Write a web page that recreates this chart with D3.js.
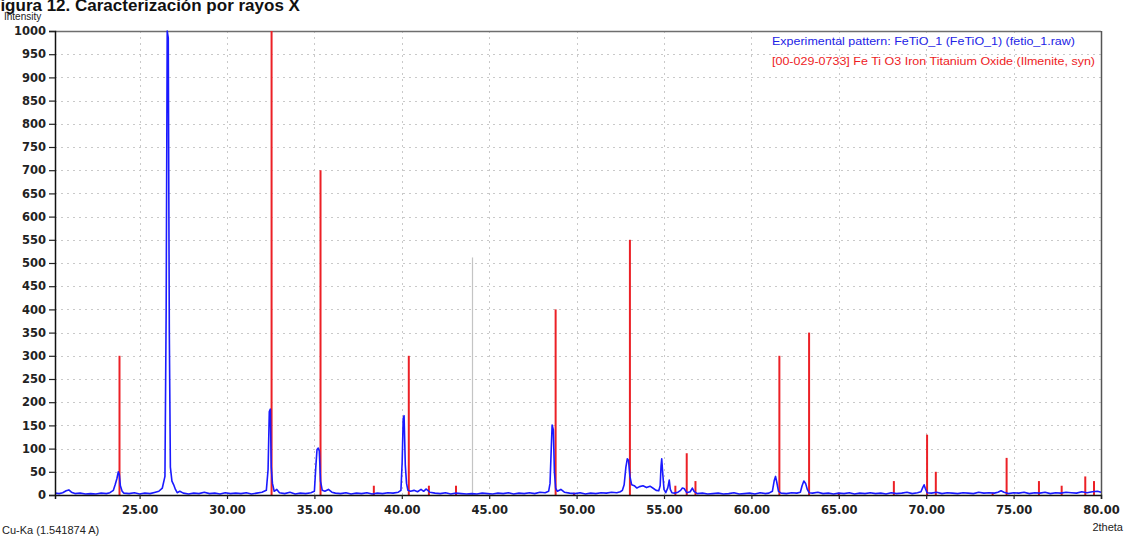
<!DOCTYPE html>
<html>
<head>
<meta charset="utf-8">
<script src="https://cdn.jsdelivr.net/npm/d3@7"></script>
<style>
  html, body { margin: 0; padding: 0; background: #fff; overflow: hidden; }
  svg { display: block; }
</style>
</head>
<body>
<svg id="chart" width="1125" height="537"></svg>
<script>
// ---------- DATA ----------
const titleText = "Figura 12. Caracterización por rayos X";
const yLabel = "Intensity";
const xLabel = "2theta";
const wavelengthLabel = "Cu-Ka (1.541874 A)";
const legendLabels = [
  "Experimental pattern: FeTiO_1 (FeTiO_1) (fetio_1.raw)",
  "[00-029-0733] Fe Ti O3 Iron Titanium Oxide (Ilmenite, syn)"
];
const xTicks = [25, 30, 35, 40, 45, 50, 55, 60, 65, 70, 75, 80];
const yTicks = [0, 50, 100, 150, 200, 250, 300, 350, 400, 450, 500, 550, 600, 650, 700, 750, 800, 850, 900, 950, 1000];

// Reference pattern (ilmenite) sticks
const refTheta = [23.85, 32.55, 35.35, 38.4, 40.4, 41.55, 43.1, 48.8, 49.85, 53.05, 55.65, 56.3, 56.8, 61.6, 63.3, 65.0, 68.15, 70.05, 70.55, 73.8, 74.6, 76.45, 77.75, 79.1, 79.6];
const refIntensity = [300, 1000, 700, 20, 300, 20, 20, 400, 5, 550, 20, 90, 30, 300, 350, 5, 30, 130, 50, 5, 80, 30, 20, 40, 30];

// Experimental pattern
const expTheta = [20.16,20.4,20.6,20.8,20.95,21.1,21.3,21.6,21.9,22.2,22.5,22.8,23.1,23.3,23.5,23.6,23.7,23.78,23.84,23.9,24.0,24.1,24.4,24.7,25.0,25.3,25.6,25.9,26.1,26.3,26.45,26.52,26.58,26.64,26.7,26.76,26.85,26.95,27.05,27.15,27.3,27.5,27.8,28.1,28.4,28.7,29.0,29.3,29.6,29.9,30.2,30.5,30.8,31.1,31.4,31.7,32.0,32.25,32.35,32.42,32.48,32.53,32.6,32.7,32.85,33.0,33.3,33.6,33.9,34.2,34.5,34.8,35.0,35.08,35.15,35.22,35.28,35.35,35.45,35.6,35.8,36.0,36.2,36.5,36.8,37.1,37.4,37.7,38.0,38.3,38.6,38.9,39.2,39.5,39.8,39.95,40.02,40.08,40.13,40.2,40.27,40.35,40.5,40.7,40.9,41.1,41.25,41.4,41.6,41.9,42.2,42.5,42.8,43.1,43.4,43.7,44.0,44.3,44.6,44.9,45.2,45.5,45.8,46.1,46.4,46.7,47.0,47.3,47.6,47.9,48.2,48.4,48.48,48.55,48.6,48.67,48.73,48.8,48.9,49.1,49.3,49.6,49.9,50.2,50.5,50.8,51.1,51.4,51.7,52.0,52.3,52.5,52.62,52.72,52.82,52.9,52.97,53.05,53.15,53.3,53.45,53.6,53.8,54.0,54.2,54.4,54.55,54.7,54.78,54.83,54.87,54.92,55.0,55.1,55.22,55.3,55.36,55.45,55.6,55.8,55.95,56.05,56.15,56.3,56.5,56.62,56.72,56.9,57.2,57.5,57.8,58.1,58.4,58.7,59.0,59.3,59.6,59.9,60.2,60.5,60.8,61.0,61.2,61.3,61.38,61.45,61.55,61.7,62.0,62.3,62.6,62.8,62.9,63.0,63.1,63.2,63.3,63.5,63.8,64.1,64.4,64.7,65.0,65.3,65.6,65.9,66.2,66.5,66.8,67.1,67.4,67.7,68.0,68.3,68.6,68.9,69.2,69.5,69.7,69.8,69.88,69.95,70.05,70.3,70.6,70.9,71.2,71.5,71.8,72.1,72.4,72.7,73.0,73.3,73.6,73.9,74.1,74.28,74.45,74.7,75.0,75.3,75.6,75.9,76.2,76.5,76.8,77.1,77.4,77.7,78.0,78.3,78.6,78.9,79.2,79.5,79.8,80.0];
const expCounts = [4,3,5,9,11,6,3,4,2,3,2,4,3,5,10,22,35,50,44,20,8,4,3,5,2,4,3,6,8,15,40,400,1000,985,350,60,30,22,12,5,8,4,2,4,3,6,3,4,2,5,3,4,3,5,2,4,6,10,55,180,185,60,25,8,12,5,3,6,2,4,3,5,8,60,98,101,95,30,10,8,12,6,4,3,5,2,4,3,5,2,4,3,5,4,6,10,70,165,171,65,25,10,8,10,7,12,8,13,6,4,3,5,2,4,3,2,3,2,4,3,2,4,3,5,2,4,3,5,3,6,5,8,25,100,151,140,50,15,8,12,6,4,3,5,2,4,3,5,4,6,5,7,10,22,60,78,75,40,22,20,15,18,20,16,19,14,10,9,20,62,78,50,12,5,16,32,12,5,4,6,10,15,14,5,7,15,8,3,4,2,3,4,2,3,5,2,3,4,2,5,3,4,8,30,40,28,8,4,3,5,4,6,20,30,25,12,5,4,6,3,4,2,4,3,5,2,4,3,5,3,4,2,5,3,4,6,3,5,7,16,22,14,5,4,6,3,5,4,3,5,4,3,6,4,5,4,6,9,6,3,5,4,6,3,5,4,6,3,5,4,6,5,4,7,5,7,8,6];

// Marker line (cursor) in the original software view
const cursorTheta = [44.0];
const cursorIntensity = [512];

// ---------- CHART ----------
const svg = d3.select("#chart");
const mLeft = 55, mRight = 1101, mTop = 31, mBottom = 495;

const x = d3.scaleLinear().domain([20.16, 80]).range([mLeft, mRight]);
const y = d3.scaleLinear().domain([0, 1000]).range([mBottom, mTop]);

const font = "'Liberation Sans', Arial, sans-serif";
const tickFont = "'DejaVu Sans', Verdana, sans-serif";

// Title (clipped at top in the original)
svg.append("text")
  .attr("x", -10).attr("y", 11)
  .attr("font-family", font).attr("font-weight", "bold").attr("font-size", 17)
  .attr("fill", "#111")
  .text(titleText);

// Gridlines
const grid = svg.append("g").attr("stroke", "#c9c9c9").attr("stroke-width", 1).attr("stroke-dasharray", "2,4");
grid.selectAll("line.h").data(yTicks.filter(d => d > 0 && d < 1000)).join("line")
  .attr("class", "h")
  .attr("x1", mLeft).attr("x2", mRight)
  .attr("y1", d => Math.round(y(d)) + 0.5).attr("y2", d => Math.round(y(d)) + 0.5);
grid.selectAll("line.v").data(xTicks.filter(d => d < 80)).join("line")
  .attr("class", "v")
  .attr("y1", mTop).attr("y2", mBottom)
  .attr("x1", d => Math.round(x(d)) + 0.5).attr("x2", d => Math.round(x(d)) + 0.5);

// Cursor line
svg.selectAll("line.cursor").data(cursorTheta).join("line")
  .attr("class", "cursor")
  .attr("x1", d => Math.round(x(d)) + 0.5).attr("x2", d => Math.round(x(d)) + 0.5)
  .attr("y1", mBottom).attr("y2", (d, i) => y(cursorIntensity[i]))
  .attr("stroke", "#c4c4c4").attr("stroke-width", 1.2);

// Frame top/right
svg.append("line").attr("x1", mLeft).attr("x2", mRight).attr("y1", mTop + 0.5).attr("y2", mTop + 0.5)
  .attr("stroke", "#6e6e6e").attr("stroke-width", 1.5);
svg.append("line").attr("x1", mRight + 0.5).attr("x2", mRight + 0.5).attr("y1", mTop).attr("y2", mBottom)
  .attr("stroke", "#555").attr("stroke-width", 1.5);

// Reference sticks
svg.append("g").selectAll("line").data(refTheta).join("line")
  .attr("x1", d => x(d)).attr("x2", d => x(d))
  .attr("y1", y(0)).attr("y2", (d, i) => y(refIntensity[i]))
  .attr("stroke", "#ec2026").attr("stroke-width", 2);

// Experimental line
const n = Math.min(expTheta.length, expCounts.length);
const pts = expTheta.slice(0, n).map((t, i) => [t, expCounts[i]]);
svg.append("path").datum(pts)
  .attr("d", d3.line().x(d => x(d[0])).y(d => y(d[1])))
  .attr("fill", "none").attr("stroke", "#1a1aff").attr("stroke-width", 1.6)
  .attr("stroke-linejoin", "round");

// Axes
const yAxis = d3.axisLeft(y).tickValues(yTicks).tickSize(6).tickPadding(3).tickFormat(d3.format("d"));
const gy = svg.append("g").attr("transform", `translate(${mLeft},0)`).call(yAxis);
gy.select(".domain").attr("stroke", "#111").attr("stroke-width", 1.5);
gy.selectAll(".tick line").attr("stroke", "#222").attr("stroke-width", 1.2);
gy.selectAll(".tick text").attr("font-family", tickFont).attr("font-size", 11.5).attr("font-weight", "bold").attr("fill", "#222");

const xAxis = d3.axisBottom(x).tickValues(xTicks).tickSize(4).tickPadding(7).tickFormat(d3.format(".2f"));
const gx = svg.append("g").attr("transform", `translate(0,${mBottom})`).call(xAxis);
gx.select(".domain").attr("stroke", "#111").attr("stroke-width", 1.5);
gx.selectAll(".tick line").attr("stroke", "#222").attr("stroke-width", 1.2);
gx.selectAll(".tick text").attr("font-family", tickFont).attr("font-size", 11.5).attr("font-weight", "bold").attr("fill", "#222");

// Axis labels
svg.append("text").attr("x", 4).attr("y", 20)
  .attr("font-family", font).attr("font-size", 10).attr("fill", "#222").text(yLabel);
svg.append("text").attr("x", 1123).attr("y", 531).attr("text-anchor", "end")
  .attr("font-family", font).attr("font-size", 11).attr("fill", "#222").text(xLabel);
svg.append("text").attr("x", 2).attr("y", 534)
  .attr("font-family", font).attr("font-size", 11).attr("fill", "#222").text(wavelengthLabel);

// Legend
const legendColors = ["#2323e6", "#ee1c24"];
const legendWidths = [303, 323];
svg.append("g").selectAll("text").data(legendLabels).join("text")
  .attr("x", 772).attr("y", (d, i) => 45 + i * 20)
  .attr("font-family", font).attr("font-size", 11.5)
  .attr("fill", (d, i) => legendColors[i])
  .attr("textLength", (d, i) => legendWidths[i]).attr("lengthAdjust", "spacingAndGlyphs")
  .text(d => d);
</script>
</body>
</html>
